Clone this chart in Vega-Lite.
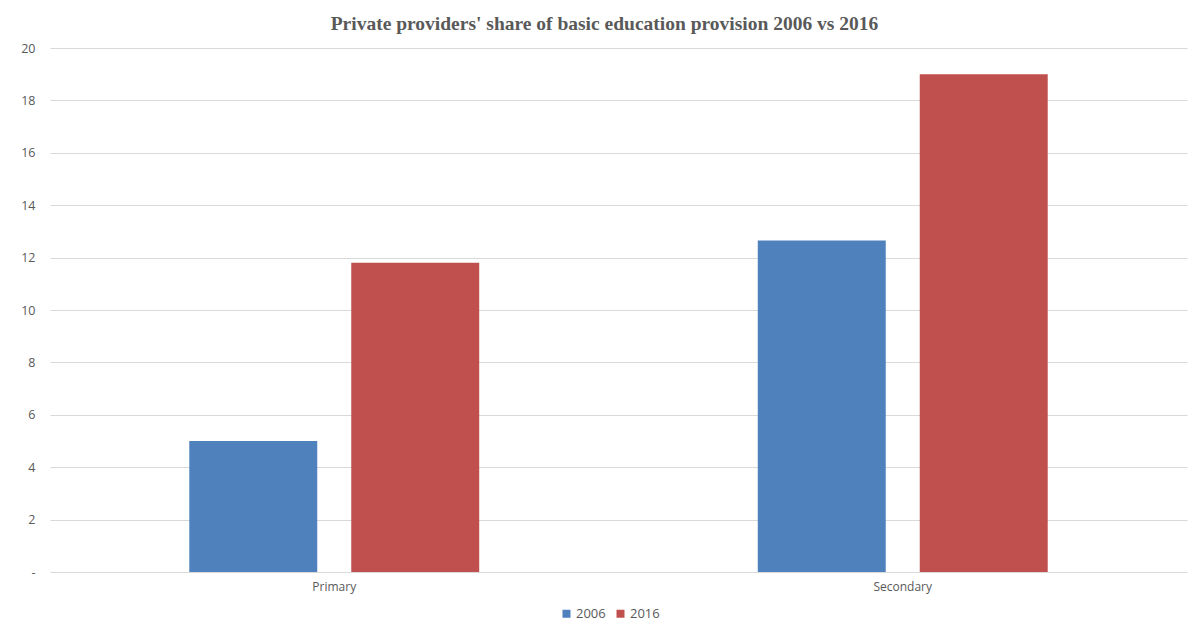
{
  "$schema": "https://vega.github.io/schema/vega-lite/v6.json",
  "autosize": {"type": "none"},
  "width": 1137,
  "height": 524,
  "padding": {"left": 50, "top": 48, "right": 16, "bottom": 60},
  "background": "white",
  "title": {
    "text": "Private providers' share of basic education provision 2006 vs 2016",
    "font": "Liberation Serif",
    "fontSize": 19.5,
    "fontWeight": "bold",
    "color": "#595959",
    "anchor": "middle",
    "offset": 8,
    "dx": -14
  },
  "data": {
    "values": [
      {"level": "Primary", "year": "2006", "share": 5.0},
      {"level": "Primary", "year": "2016", "share": 11.8},
      {"level": "Secondary", "year": "2006", "share": 12.65},
      {"level": "Secondary", "year": "2016", "share": 19.0}
    ]
  },
  "mark": {"type": "bar"},
  "encoding": {
    "x": {
      "field": "level",
      "type": "nominal",
      "title": null,
      "scale": {"paddingInner": 0.49, "paddingOuter": 0.245},
      "axis": {
        "labelAngle": 0,
        "ticks": false,
        "domain": false,
        "labelPadding": 9,
        "labelFont": "Open Sans",
        "labelFontSize": 12,
        "labelColor": "#595959"
      }
    },
    "xOffset": {
      "field": "year",
      "type": "nominal",
      "scale": {"paddingInner": 0.21, "paddingOuter": 0}
    },
    "y": {
      "field": "share",
      "type": "quantitative",
      "title": null,
      "scale": {"domain": [0, 20]},
      "axis": {
        "values": [0, 2, 4, 6, 8, 10, 12, 14, 16, 18, 20],
        "labelExpr": "datum.value == 0 ? '-' : datum.label",
        "domain": false,
        "ticks": false,
        "labelPadding": 15,
        "labelFont": "Open Sans",
        "labelFontSize": 12.5,
        "labelColor": "#595959",
        "gridColor": "#d9d9d9",
        "gridWidth": 1
      }
    },
    "color": {
      "field": "year",
      "type": "nominal",
      "title": null,
      "scale": {"domain": ["2006", "2016"], "range": ["#4F81BD", "#C0504D"]},
      "legend": {
        "orient": "none",
        "direction": "horizontal",
        "legendX": 510,
        "legendY": 559,
        "symbolType": "square",
        "symbolSize": 64,
        "symbolStrokeWidth": 0,
        "labelFont": "Open Sans",
        "labelFontSize": 13,
        "labelColor": "#595959",
        "columnPadding": 8,
        "labelOffset": 3
      }
    }
  },
  "config": {
    "view": {"stroke": null}
  }
}
